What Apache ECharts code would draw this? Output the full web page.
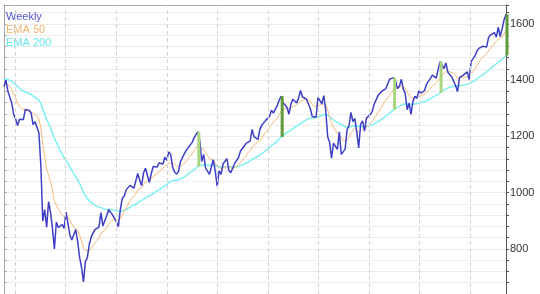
<!DOCTYPE html>
<html><head><meta charset="utf-8">
<script src="https://cdn.jsdelivr.net/npm/echarts@6/dist/echarts.min.js"></script>
<style>html,body{margin:0;padding:0;background:#fff}#c{width:540px;height:294px}</style>
</head><body><div id="c"></div>
<script>
// Weekly closes, first week ending 2008-05-23, one value per week
const startDate = '2008-05-23';
const weekly = [1376,1400,1361,1360,1318,1278,1262,1239,1261,1257,1260,1296,1298,1292,1283,1242,1252,1255,1213,1099,
899,940,877,968,930,873,800,896,876,879,887,873,931,890,850,832,826,869,827,770,
735,683,756,769,816,843,857,870,866,878,929,882,887,919,940,946,921,918,896,879,
940,979,987,1010,1005,1026,1029,1016,1042,1068,1044,1025,1071,1087,1080,1036,1069,1093,1091,1091,
1106,1106,1102,1126,1115,1145,1136,1091,1074,1066,1075,1109,1104,1138,1150,1160,1167,1178,1194,1192,
1217,1187,1111,1136,1087,1089,1065,1092,1117,1076,1022,1078,1065,1102,1102,1121,1079,1071,1065,1104,
1110,1125,1148,1146,1166,1176,1183,1183,1225,1199,1199,1189,1224,1240,1244,1257,1258,1271,1293,1283,
1276,1310,1329,1343,1320,1321,1304,1279,1313,1332,1328,1319,1337,1363,1340,1338,1333,1331,1300,1271,
1271,1268,1339,1344,1316,1345,1292,1199,1178,1123,1176,1174,1154,1216,1136,1131,1155,1224,1238,1285,
1253,1263,1216,1159,1244,1255,1219,1265,1258,1278,1289,1315,1316,1345,1342,1361,1366,1370,1371,1404,
1397,1408,1398,1370,1378,1403,1369,1353,1295,1318,1278,1325,1343,1335,1362,1354,1356,1363,1386,1391,
1406,1418,1411,1407,1438,1466,1460,1441,1461,1428,1433,1412,1414,1380,1359,1409,1416,1418,1413,1430,
1402,1466,1472,1486,1503,1513,1518,1520,1516,1518,1551,1561,1556,1569,1553,1588,1555,1582,1614,1634];
const ema50 = [1385,1388,1383,1379,1368,1352,1336,1318,1308,1299,1292,1293,1294,1293,1291,1282,1277,1273,1262,1232,
1171,1129,1083,1062,1038,1008,970,957,942,931,923,914,917,912,901,888,877,876,867,849,
828,802,794,789,794,803,813,823,831,840,856,861,866,876,888,898,902,905,903,899,
906,919,931,946,957,970,981,987,997,1010,1016,1018,1028,1039,1046,1044,1049,1057,1063,1068,
1075,1081,1085,1092,1096,1105,1111,1107,1101,1095,1091,1094,1096,1104,1112,1121,1129,1138,1148,1156,
1167,1171,1160,1156,1143,1133,1121,1116,1116,1109,1093,1090,1085,1088,1091,1096,1093,1089,1085,1088,
1092,1098,1107,1114,1124,1133,1142,1150,1163,1170,1175,1178,1186,1196,1205,1214,1222,1231,1242,1250,
1255,1265,1277,1289,1295,1300,1301,1297,1300,1306,1310,1312,1316,1325,1328,1330,1331,1331,1325,1315,
1307,1300,1307,1314,1314,1320,1315,1294,1273,1246,1233,1222,1210,1211,1197,1185,1180,1188,1197,1213,
1220,1228,1226,1214,1219,1226,1225,1232,1237,1244,1252,1264,1273,1286,1296,1308,1319,1328,1336,1348,
1357,1366,1372,1372,1373,1378,1376,1372,1358,1351,1338,1336,1337,1337,1342,1344,1346,1349,1356,1362,
1370,1379,1385,1389,1398,1410,1419,1423,1430,1430,1430,1427,1425,1417,1406,1407,1409,1411,1411,1414,
1412,1422,1431,1441,1452,1463,1473,1482,1488,1493,1504,1514,1522,1531,1535,1545,1547,1553,1564,1577];
const ema200 = [1404,1404,1402,1400,1396,1390,1384,1377,1371,1366,1361,1358,1355,1352,1349,1344,1339,1335,1329,1318,
1297,1280,1260,1246,1231,1213,1193,1179,1164,1150,1137,1124,1115,1104,1092,1079,1067,1057,1046,1033,
1018,1002,990,979,971,965,960,956,951,948,947,944,941,940,940,940,939,938,936,933,
933,935,938,941,944,948,952,955,959,964,968,971,976,981,986,988,992,997,1002,1006,
1011,1016,1020,1025,1029,1035,1040,1042,1044,1045,1046,1049,1052,1056,1061,1066,1071,1076,1082,1087,
1093,1098,1098,1100,1099,1099,1097,1097,1098,1097,1093,1092,1091,1091,1092,1093,1093,1092,1090,1091,
1092,1093,1096,1099,1102,1106,1109,1113,1118,1122,1126,1129,1134,1139,1144,1150,1155,1160,1167,1172,
1177,1184,1191,1198,1204,1210,1214,1217,1222,1227,1232,1236,1241,1247,1251,1256,1259,1263,1265,1265,
1265,1265,1269,1273,1275,1278,1279,1275,1270,1263,1259,1255,1250,1248,1243,1238,1234,1233,1233,1236,
1237,1238,1237,1233,1234,1235,1234,1236,1237,1239,1241,1245,1248,1253,1257,1262,1267,1272,1277,1283,
1289,1295,1300,1303,1307,1311,1314,1316,1315,1315,1313,1314,1315,1316,1318,1320,1322,1324,1327,1330,
1334,1338,1342,1345,1349,1355,1360,1364,1369,1372,1375,1377,1379,1379,1378,1379,1381,1383,1384,1386,
1387,1391,1395,1399,1404,1409,1415,1420,1424,1429,1435,1441,1447,1453,1458,1464,1469,1474,1481,1488];
// Half-year vertical grid dates
const gridDates = ['2008-07-01','2009-01-01','2009-07-01','2010-01-01','2010-07-01','2011-01-01','2011-07-01','2012-01-01','2012-07-01','2013-01-01'];
// Signal bars (week index, 1 = dark)
const signalWeeks = [100,143,201,225,259];
const signalDark = [0,1,0,0,1];
const yTicks = [800,1000,1200,1400,1600];

const t0 = Date.UTC(2008,4,23);
const WEEK = 7*24*3600*1000;
const dates = weekly.map((_, i) => t0 + i*WEEK);
const toTs = s => { const p = s.split('-').map(Number); return Date.UTC(p[0], p[1]-1, p[2]); };

const chart = echarts.init(document.getElementById('c'), null, {renderer:'canvas'});
const C_W = '#3f3fc6', C_50 = '#f4ba78', C_200 = '#7ef0f0';
chart.setOption({
  animation:false,
  backgroundColor:'#ffffff',
  grid:{left:4, right:34, top:5, bottom:-2, containLabel:false},
  legend:{
    orient:'vertical', left:-4, top:6, itemWidth:0, itemHeight:11, itemGap:2, icon:'none',
    textStyle:{fontFamily:'Liberation Sans, Arial, sans-serif', fontSize:11},
    data:[{name:'Weekly',textStyle:{color:'#5252cc'}},{name:'EMA 50',textStyle:{color:'#f2b56c'}},{name:'EMA 200',textStyle:{color:'#66e6ea'}}],
    selectedMode:false
  },
  xAxis:{type:'time', min:dates[0], max:dates[dates.length-1], position:'top',
    axisLine:{show:true, lineStyle:{color:'#a8a8a8', width:1}}, axisTick:{show:false}, axisLabel:{show:false}, splitLine:{show:false}},
  yAxis:[{
    type:'value', position:'right', min:640, max:1667, interval:40,
    axisLine:{show:true, lineStyle:{color:'#555', width:1}},
    axisTick:{show:true, length:3, lineStyle:{color:'#555'}},
    axisLabel:{show:true, margin:4, color:'#333', fontFamily:'Liberation Sans, Arial, sans-serif', fontSize:11,
      formatter: v => yTicks.indexOf(v) >= 0 ? String(v) : ''},
    splitLine:{show:true, lineStyle:{color:'#ececec', width:1}}
  },{
    type:'value', position:'left', min:640, max:1667, interval:40,
    axisLine:{show:true, lineStyle:{color:'#a8a8a8', width:1}},
    axisTick:{show:true, inside:true, length:3, lineStyle:{color:'#a8a8a8'}},
    axisLabel:{show:false}, splitLine:{show:false}
  }],
  series:[
    {name:'EMA 200', type:'line', showSymbol:false, symbol:'none', data:dates.map((d,i)=>[d,ema200[i]]),
      lineStyle:{color:C_200, width:1.5}, itemStyle:{color:C_200}, z:2,
      markLine:{symbol:'none', silent:true, label:{show:false}, animation:false,
        lineStyle:{color:'#d4d4d4', type:[4,3], width:1},
        data: gridDates.map(s=>({xAxis:toTs(s)}))}},
    {name:'EMA 50', type:'line', showSymbol:false, symbol:'none', data:dates.map((d,i)=>[d,ema50[i]]),
      lineStyle:{color:C_50, width:1}, itemStyle:{color:C_50}, z:3},
    {name:'Weekly', type:'line', showSymbol:false, symbol:'none', data:dates.map((d,i)=>[d,weekly[i]]),
      lineStyle:{color:C_W, width:1.5}, itemStyle:{color:C_W}, z:4},
    {name:'signal', type:'custom', clip:false, z:5,
      data: signalWeeks.map((w,k)=>[dates[w], weekly[w], ema200[w], signalDark[k]]),
      renderItem:(params, api)=>{
        const a = api.coord([api.value(0), api.value(1)]);
        const b = api.coord([api.value(0), api.value(2)]);
        return {type:'rect', shape:{x:a[0]-0.5, y:a[1], width:3, height:b[1]-a[1]},
          style:{fill: api.value(3) ? '#5f9a3c' : '#a9d67e'}};
      }}
  ]
});
</script></body></html>
